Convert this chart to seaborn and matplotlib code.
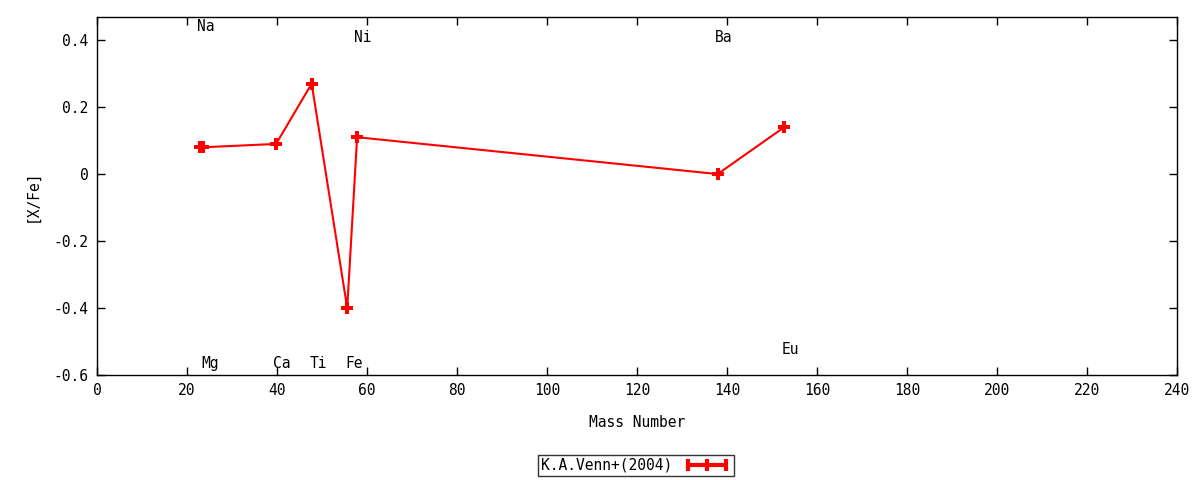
import matplotlib
matplotlib.use("Agg")
import matplotlib.pyplot as plt
import seaborn as sns
import pandas as pd
from matplotlib.lines import Line2D

elements = ["Na", "Mg", "Ca", "Ti", "Fe", "Ni", "Ba", "Eu"]
mass_number = [23.0, 23.6, 39.8, 47.7, 55.6, 57.8, 137.9, 152.7]
label_mass = [23, 24, 40, 48, 56, 58, 138, 153]
x_fe = [0.08, 0.08, 0.09, 0.27, -0.40, 0.11, 0.00, 0.14]
label_y = [0.44, -0.565, -0.565, -0.565, -0.565, 0.407, 0.407, -0.525]
x_ticks = list(range(0, 241, 20))
y_ticks = [-0.6, -0.4, -0.2, 0.0, 0.2, 0.4]
y_tick_labels = ["-0.6", "-0.4", "-0.2", "0", "0.2", "0.4"]
series_name = "K.A.Venn+(2004)"

sns.set_style("ticks")
plt.rcParams["font.family"] = ["DejaVu Sans Mono", "DejaVu Sans"]
plt.rcParams["text.color"] = "black"
plt.rcParams["axes.labelcolor"] = "black"
plt.rcParams["xtick.color"] = "black"
plt.rcParams["ytick.color"] = "black"

df = pd.DataFrame({"Mass Number": mass_number, "[X/Fe]": x_fe})

fig = plt.figure(figsize=(12, 4.8), dpi=100)
ax = fig.add_axes([0.0808, 0.21875, 0.9002, 0.74585])

sns.lineplot(data=df, x="Mass Number", y="[X/Fe]", ax=ax, color="red",
             linewidth=1.5, marker="P", markersize=8, markeredgewidth=0,
             sort=False)

for el, mx, ly in zip(elements, label_mass, label_y):
    ax.text(mx - 0.8, ly, el, ha="left", va="center", fontsize=10.5,
            color="black")

ax.set_xlim(0, 240)
ax.set_ylim(-0.6, 0.469)
ax.set_xticks(x_ticks)
ax.set_xticklabels([str(t) for t in x_ticks])
ax.set_yticks(y_ticks)
ax.set_yticklabels(y_tick_labels)
ax.tick_params(direction="in", top=True, right=True, length=6, width=1,
               labelsize=10.5, colors="black", labelcolor="black", pad=6)
for s in ax.spines.values():
    s.set_visible(True)
    s.set_linewidth(1)
    s.set_color("black")
ax.set_xlabel("Mass Number", fontsize=10.5, labelpad=12, color="black")
ax.set_ylabel("[X/Fe]", fontsize=10.5, labelpad=10, color="black")

handle = Line2D([], [], color="red", linewidth=3, marker="|",
                markersize=9, markeredgewidth=3)
leg = fig.legend([handle], [series_name], loc="center",
                 bbox_to_anchor=(0.53, 0.031), frameon=True, fancybox=False,
                 edgecolor="black", fontsize=10.5, markerfirst=False,
                 numpoints=3, handlelength=3.2, borderpad=0.2,
                 borderaxespad=0, labelcolor="black")
leg.get_frame().set_linewidth(1)

fig.savefig("out.png", dpi=100)
